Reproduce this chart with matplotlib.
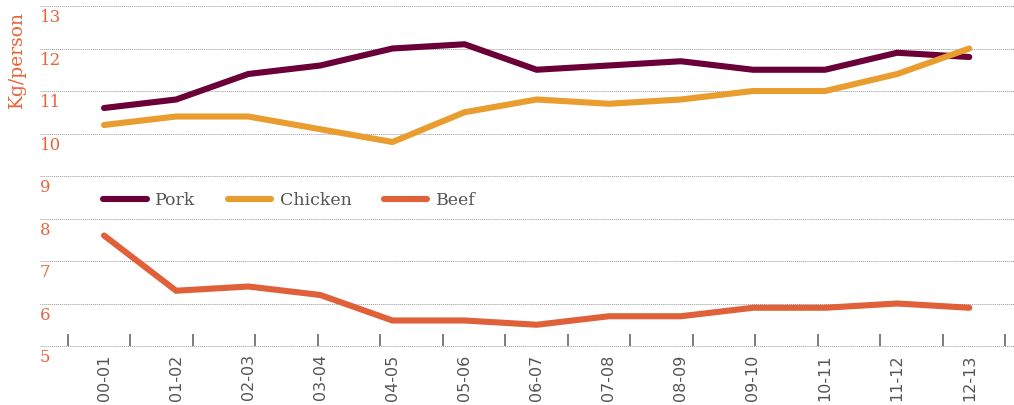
import numpy as np
import matplotlib
matplotlib.use("Agg")
import matplotlib.pyplot as plt
from matplotlib.transforms import blended_transform_factory

# =========================
# DATA
# =========================
years = ["00-01", "01-02", "02-03", "03-04", "04-05", "05-06", "06-07",
         "07-08", "08-09", "09-10", "10-11", "11-12", "12-13"]

pork    = [10.6, 10.8, 11.4, 11.6, 12.0, 12.1, 11.5, 11.6, 11.7, 11.5, 11.5, 11.9, 11.8]
chicken = [10.2, 10.4, 10.4, 10.1, 9.8, 10.5, 10.8, 10.7, 10.8, 11.0, 11.0, 11.4, 12.0]
beef    = [7.6, 6.3, 6.4, 6.2, 5.6, 5.6, 5.5, 5.7, 5.7, 5.9, 5.9, 6.0, 5.9]

y_ticks = [5, 6, 7, 8, 9, 10, 11, 12, 13]

# =========================
# STYLE
# =========================
PORK_C = "#6b0038"
CHICKEN_C = "#e99d2f"
BEEF_C = "#e0603a"
AXIS_C = "#e8643a"
TEXT_C = "#555555"
LW = 4.4

fig = plt.figure(figsize=(10.14, 4.05), dpi=100)
ax = fig.add_axes([40 / 1014, 1 - 346 / 405, 974 / 1014, 340 / 405])

x = np.arange(len(years))
ax.plot(x, pork, color=PORK_C, lw=LW, solid_capstyle="round", solid_joinstyle="miter", label="Pork")
ax.plot(x, chicken, color=CHICKEN_C, lw=LW, solid_capstyle="round", solid_joinstyle="miter", label="Chicken")
ax.plot(x, beef, color=BEEF_C, lw=LW, solid_capstyle="round", solid_joinstyle="miter", label="Beef")

ax.set_xlim(-0.888, 12.62)
ax.set_ylim(5, 13)

# dotted horizontal grid
for v in y_ticks:
    ax.axhline(v, color="#999999", lw=0.7, ls=(0, (1, 1)), zorder=0, clip_on=False)

# y labels sit just below each grid line, inside the left edge
trans = blended_transform_factory(ax.transAxes, ax.transData)
for v in y_ticks:
    ax.text(0.0, v - 0.08, str(v), transform=trans, ha="left", va="top",
            color=AXIS_C, fontsize=12, family="DejaVu Serif", clip_on=False)
ax.set_yticks([])

fig.text(17 / 1014, 1 - 60 / 405, "Kg/person", rotation=90, ha="center", va="center",
         color=AXIS_C, fontsize=13.5, family="DejaVu Serif")

# x axis: labels at data points, small marks on their own spacing
ax.set_xticks(x)
ax.set_xticklabels(years, rotation=90, color=TEXT_C, fontsize=11.5, va="top")
ax.tick_params(axis="x", which="major", length=0, pad=6)
ax.set_xticks(np.linspace(-0.5, 12.5, 16), minor=True)
ax.tick_params(axis="x", which="minor", length=8.5, width=1.2, direction="in", color="#666666")

for s in ax.spines.values():
    s.set_visible(False)

leg = ax.legend(loc="center left", bbox_to_anchor=(0.065, 0.4265), ncol=3, frameon=False,
                borderpad=0, borderaxespad=0, handlelength=2.5, handletextpad=0.5,
                columnspacing=1.85, prop={"family": "DejaVu Serif", "size": 12.5})
for t in leg.get_texts():
    t.set_color(TEXT_C)

plt.savefig("out.png", dpi=100)
